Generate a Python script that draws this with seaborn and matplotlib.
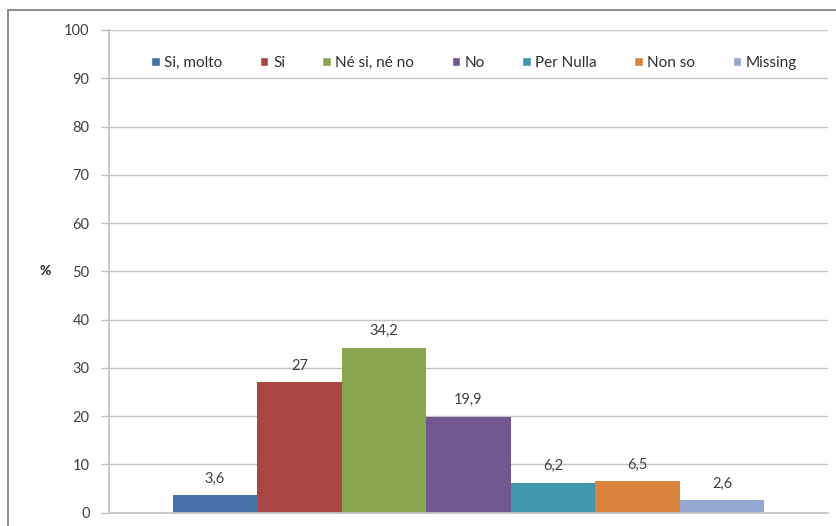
import matplotlib
matplotlib.use("Agg")
import matplotlib.pyplot as plt
from matplotlib.patches import Rectangle
import seaborn as sns
import pandas as pd

# Survey answers (percent)
risposte = ["Si, molto", "Si", "Né si, né no", "No", "Per Nulla", "Non so", "Missing"]
valori = [3.6, 27, 34.2, 19.9, 6.2, 6.5, 2.6]
etichette = ["3,6", "27", "34,2", "19,9", "6,2", "6,5", "2,6"]
colori = ["#4572A7", "#AA4643", "#89A54E", "#71588F", "#4198AF", "#DB843D", "#93A9CF"]
tick_y = [0, 10, 20, 30, 40, 50, 60, 70, 80, 90, 100]

df = pd.DataFrame({"gruppo": [""] * len(risposte), "risposta": risposte, "valore": valori})

sns.set_theme(style="white")
plt.rcParams["font.family"] = ["Lato", "DejaVu Sans"]

fig = plt.figure(figsize=(8.37, 5.26), dpi=100)
ax = fig.add_axes([109 / 837, 1 - 512.7 / 526, (828 - 109) / 837, (512.7 - 30) / 526])

sns.barplot(data=df, x="gruppo", y="valore", hue="risposta", hue_order=risposte,
            palette=colori, width=0.823, gap=0, saturation=1, ax=ax, legend=False,
            edgecolor="none")

ax.set_xlim(-0.5, 0.5)
ax.set_ylim(0, 100)
ax.set_yticks(tick_y)
ax.set_yticklabels([str(t) for t in tick_y], fontsize=10.5, color="#404040")
ax.tick_params(axis="y", length=6, width=1, color="#bfbfbf", pad=8, left=True)
ax.set_xticks([])
ax.set_xlabel("")
ax.set_ylabel("%", rotation=0, fontsize=10, fontweight="bold", color="#202020", va="center")
ax.yaxis.set_label_coords(-0.089, 0.5)

ax.yaxis.grid(True, color="#c4c4c4", linewidth=1)
ax.set_axisbelow(True)
for s in ["top", "right"]:
    ax.spines[s].set_visible(False)
ax.spines["left"].set_color("#bfbfbf")
ax.spines["bottom"].set_color("#c4c4c4")

for cont, lab in zip(ax.containers, etichette):
    ax.bar_label(cont, labels=[lab], padding=7, fontsize=10.5, color="#404040")

handles = [Rectangle((0, 0), 1, 1, facecolor=c) for c in colori]
ax.legend(handles, risposte, loc="center", bbox_to_anchor=(0.508, 0.932), ncol=7, frameon=False,
          fontsize=11, handlelength=0.55, handleheight=0.5, handletextpad=0.3,
          columnspacing=2.45, labelcolor="#303030", borderpad=0, borderaxespad=0)

# chart frame
fig.patches.append(Rectangle((8.5 / 837, -0.1), 2, 1 - 10 / 526 + 0.1, transform=fig.transFigure,
                             fill=False, edgecolor="#8c8c8c", linewidth=1.4))

fig.savefig("out.png", dpi=100, facecolor="white")
